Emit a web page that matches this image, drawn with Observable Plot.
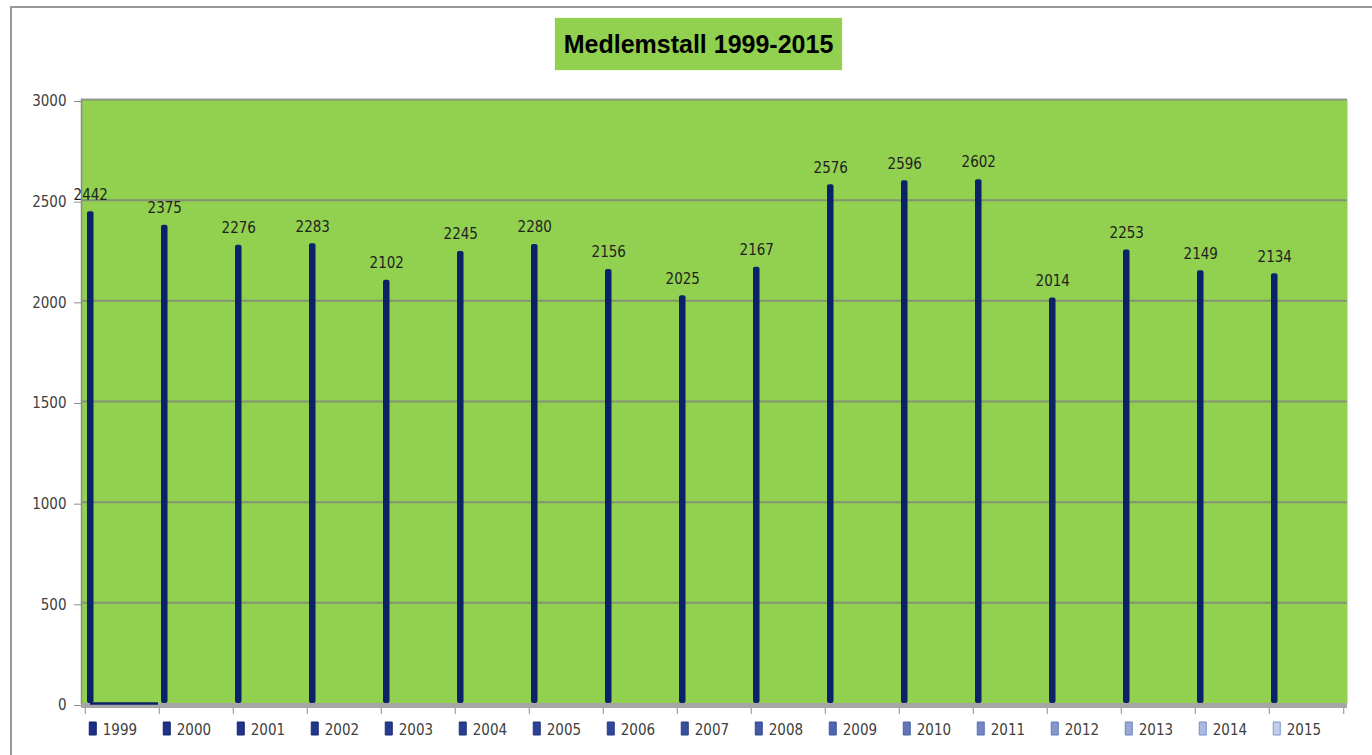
<!DOCTYPE html>
<html>
<head>
<meta charset="utf-8">
<script src="https://cdn.jsdelivr.net/npm/d3@7"></script>
<script src="https://cdn.jsdelivr.net/npm/@observablehq/plot@0.6"></script>
<style>
  html, body { margin: 0; padding: 0; background: #fff; overflow: hidden; }
  #wrap { position: relative; width: 1372px; height: 755px; }
  #border { position: absolute; left: 10px; top: 6px; width: 1400px; height: 800px;
            border-left: 2px solid #9a9a9a; border-top: 2px solid #9a9a9a; }
  #title { position: absolute; left: 555px; top: 18px; width: 287px; height: 52px;
           background: #92D050; color: #000; font: bold 25px "Liberation Sans", Arial, sans-serif;
           display: flex; align-items: center; justify-content: center; box-shadow: 0 0 1px #b8e090; }
  #chart { position: absolute; left: 0; top: 0; }
</style>
</head>
<body>
<div id="wrap">
  <div id="border"></div>
  <div id="title">Medlemstall 1999-2015</div>
  <div id="chart"></div>
</div>
<script>
const years = ["1999","2000","2001","2002","2003","2004","2005","2006","2007","2008","2009","2010","2011","2012","2013","2014","2015"];
const members = [2442, 2375, 2276, 2283, 2102, 2245, 2280, 2156, 2025, 2167, 2576, 2596, 2602, 2014, 2253, 2149, 2134];
const yTicks = [0, 500, 1000, 1500, 2000, 2500, 3000];
const legendFills = ["#1b2f86","#1d3288","#1f348a","#21378c","#243a8e","#273e91","#2b4394","#304898","#374f9d","#4058a6","#5066b0","#6275b8","#7586c2","#8797cb","#9aa8d5","#adb9de","#c2cce8"];
const legendStrokes = ["#14246a","#14246a","#16266c","#18296f","#1b2c72","#1e3075","#223479","#26397d","#2b3f84","#33488e","#3f5599","#4a62a6","#5470b2","#5d7abb","#6684c3","#6f8dca","#7896d0"];

const W = 1372, H = 755;
const mL = 81, mR = 25, mT = 99, mB = 52;
const bw = (W - mL - mR) / years.length;
const font = '"Liberation Sans Narrow", "DejaVu Sans Condensed", "Liberation Sans", sans-serif';
const barColor = "#0b2168";

const data = years.map((y, i) => ({year: y, value: members[i], fill: legendFills[i], stroke: legendStrokes[i]}));

const rectSymbol = { draw(ctx) { ctx.rect(-3.5, -6.5, 7, 13); } };

const chart = Plot.plot({
  width: W, height: H,
  marginLeft: mL, marginRight: mR, marginTop: mT, marginBottom: mB,
  style: { background: "transparent", fontFamily: font },
  x: { type: "band", domain: years, padding: 0, axis: null, label: null },
  y: { domain: [0, 3000], axis: null, label: null },
  marks: [
    Plot.frame({ fill: "#92D050" }),
    Plot.ruleY(yTicks.filter(t => t > 0), { stroke: "#7d7d7d", strokeWidth: 2, strokeOpacity: 0.75 }),
    Plot.ruleY([0], { stroke: "#a6a6a6", strokeWidth: 5, dy: 2 }),
    Plot.frame({ anchor: "left", stroke: "#8c8c8c", strokeWidth: 1.5 }),
    Plot.axisY({ ticks: yTicks, tickFormat: d => String(d), label: null, tickSize: 7, tickPadding: 8, fontSize: 15, fill: "#404040", stroke: "#8c8c8c", dy: 2 }),
    Plot.axisX({ anchor: "bottom", label: null, tickSize: 6, text: null, dx: -bw / 2, dy: 5, stroke: "#8c8c8c" }),
    Plot.axisX({ ticks: [years[years.length - 1]], label: null, anchor: "bottom", tickSize: 6, text: null, dx: bw / 2, dy: 5, stroke: "#8c8c8c" }),
    Plot.tickY([data[0]], { x: "year", y: () => 0, stroke: barColor, strokeWidth: 2.5, insetLeft: 5, insetRight: 1 }),
    Plot.barY(data, { x: "year", y: "value", fill: barColor, insetLeft: 2, insetRight: bw - 9, rx: 2 }),
    Plot.text(data, { x: "year", y: "value", text: d => String(d.value), dx: -bw / 2 + 5.5, dy: -17, fontSize: 15, fill: "#1f1f1f" }),
    Plot.dot(data, { x: "year", frameAnchor: "bottom", dx: -bw / 2 + 7.5, dy: 25, symbol: rectSymbol, fill: "fill", stroke: "stroke", strokeWidth: 1 }),
    Plot.text(data, { x: "year", text: "year", frameAnchor: "bottom", dx: -bw / 2 + 17.5, dy: 31, textAnchor: "start", fontSize: 15, fill: "#404040" })
  ]
});
document.getElementById("chart").appendChild(chart);
</script>
</body>
</html>
